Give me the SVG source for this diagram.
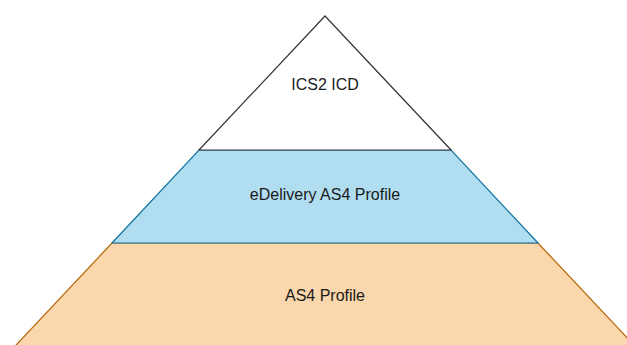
<svg xmlns="http://www.w3.org/2000/svg" width="627" height="345" viewBox="0 0 627 345">
<style>
.lbl{font-family:"Liberation Sans",Arial,sans-serif;font-size:16px;fill:#1a1a1a;text-anchor:middle}
</style>
<rect width="627" height="345" fill="#ffffff"/>
<g id="as4-profile">
<polygon points="112,243 538,243 648,360 2,360" fill="#fad7ac" stroke="#b46504" stroke-width="1.2"/>
<text class="lbl" x="325" y="301">AS4 Profile</text>
</g>
<g id="edelivery-as4-profile">
<polygon points="199,150 451,150 538,243 112,243" fill="#b1ddf0" stroke="#10739e" stroke-width="1.2"/>
<text class="lbl" x="325" y="200">eDelivery AS4 Profile</text>
</g>
<g id="ics2-icd">
<polygon points="325,16 451,150 199,150" fill="#ffffff" stroke="#333333" stroke-width="1.2"/>
<text class="lbl" x="325" y="90">ICS2 ICD</text>
</g>
<g id="connectors"></g>
</svg>
